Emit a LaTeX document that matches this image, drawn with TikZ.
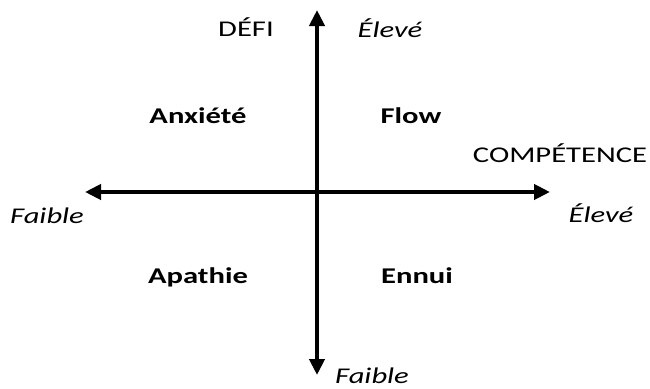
\documentclass[tikz,border=0pt]{standalone}
\usepackage{fontspec}
\setmainfont{Carlito}
\usetikzlibrary{arrows.meta}
\tikzset{
  axis/.style={line width=4pt,-{Triangle[length=16pt,width=15pt]}},
  lbl/.style={anchor=base,inner sep=0pt,font=\fontsize{22.5}{27}\selectfont},
}
\newcommand{\wide}[1]{\scalebox{1.36}[1]{#1}}
\begin{document}
\begin{tikzpicture}[x=1pt,y=-1pt]
\useasboundingbox (0,0) rectangle (650,388);
\coordinate (c) at (317,192);
\coordinate (top) at (317,10);
\coordinate (bot) at (317,375);
\coordinate (lft) at (85,192);
\coordinate (rgt) at (550,192);
\draw[axis] (c) -- (top);
\draw[axis] (c) -- (bot);
\draw[axis] (c) -- (lft);
\draw[axis] (c) -- (rgt);
\node[lbl] (defi) at (246,36) {\wide{DÉFI}};
\node[lbl] (eleveT) at (390,37) {\wide{\itshape Élevé}};
\node[lbl] (anx) at (198,123) {\wide{\bfseries Anxiété}};
\node[lbl] (flow) at (411,123) {\wide{\bfseries Flow}};
\node[lbl] (comp) at (560,162) {\wide{COMPÉTENCE}};
\node[lbl] (eleveR) at (601,222) {\wide{\itshape Élevé}};
\node[lbl] (faibleL) at (47,223) {\wide{\itshape Faible}};
\node[lbl] (apa) at (198,283) {\wide{\bfseries Apathie}};
\node[lbl] (ennui) at (417,283) {\wide{\bfseries Ennui}};
\node[lbl] (faibleB) at (372,383) {\wide{\itshape Faible}};
\end{tikzpicture}
\end{document}
